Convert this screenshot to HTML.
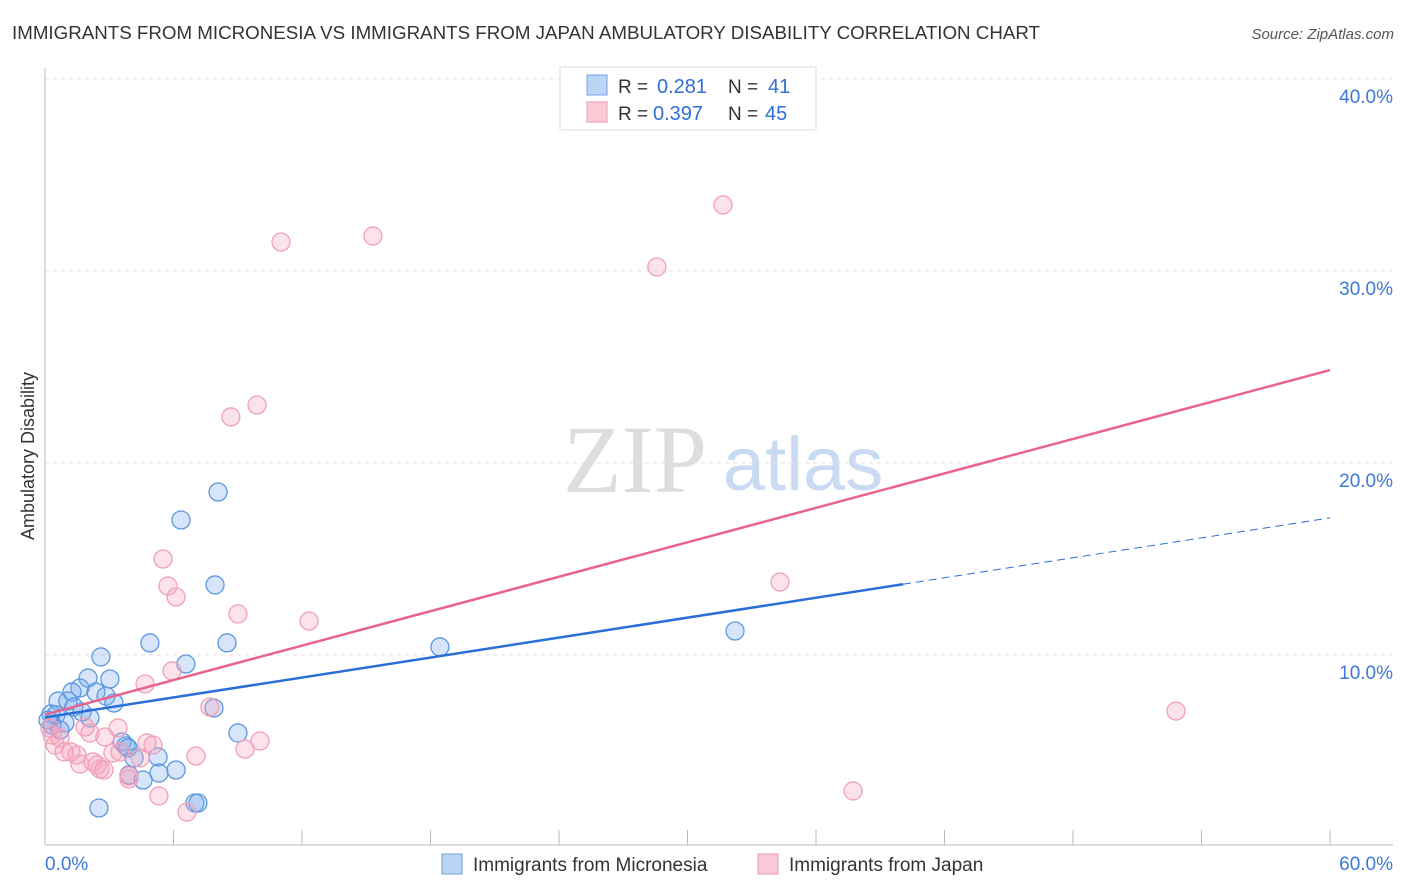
<!DOCTYPE html>
<html><head><meta charset="utf-8"><style>
body{margin:0;background:#fff;font-family:"Liberation Sans",sans-serif}
svg{display:block}
</style></head><body>
<svg id="chart" width="1406" height="892">
<text x="12" y="39" font-size="18" fill="#333" textLength="1028" lengthAdjust="spacingAndGlyphs">IMMIGRANTS FROM MICRONESIA VS IMMIGRANTS FROM JAPAN AMBULATORY DISABILITY CORRELATION CHART</text>
<text x="1394" y="39" font-size="15" fill="#555" font-style="italic" text-anchor="end">Source: ZipAtlas.com</text>
<text x="635" y="492" font-size="96" fill="#ddd" font-family="Liberation Serif,serif" text-anchor="middle">ZIP</text>
<text x="803" y="490" font-size="76" fill="#c9daf2" text-anchor="middle">atlas</text>
<text transform="translate(34,456) rotate(-90)" font-size="18" fill="#333" text-anchor="middle">Ambulatory Disability</text>
<g id="grid"></g><g id="pts"></g><g id="lines"></g>
<g>
<rect x="560" y="67" width="256" height="63" fill="#fff" stroke="#ddd"/>
<rect x="587" y="75" width="20" height="20" fill="#bcd5f5" stroke="#6fa3e6"/>
<rect x="587" y="102" width="20" height="20" fill="#f9c9d6" stroke="#ef9ab5"/>
<text x="618" y="93" font-size="19" fill="#333">R =</text><text x="657" y="93" font-size="20" fill="#2f6fd6">0.281</text>
<text x="728" y="93" font-size="19" fill="#333">N =</text><text x="768" y="93" font-size="20" fill="#2f6fd6">41</text>
<text x="618" y="120" font-size="19" fill="#333">R =</text><text x="653" y="120" font-size="20" fill="#2f6fd6">0.397</text>
<text x="728" y="120" font-size="19" fill="#333">N =</text><text x="765" y="120" font-size="20" fill="#2f6fd6">45</text>
</g>
<g>
<rect x="442" y="854" width="20" height="20" fill="#bcd5f5" stroke="#6fa3e6"/>
<text x="473" y="871" font-size="19" fill="#333">Immigrants from Micronesia</text>
<rect x="758" y="854" width="20" height="20" fill="#f9c9d6" stroke="#ef9ab5"/>
<text x="789" y="871" font-size="19" fill="#333">Immigrants from Japan</text>
</g>
</svg>
<script>
const blueX=[6.35,8.08,7.94,4.90,8.50,2.61,6.58,2.01,3.03,1.63,1.26,2.38,2.85,0.61,1.07,3.22,1.35,7.89,1.73,0.28,0.51,2.10,0.93,9.01,3.60,3.78,3.88,5.28,4.16,5.32,3.92,4.58,6.12,2.52,7.00,7.14,18.44,32.22,0.33,0.14,0.70];
const blueY=[17.03,18.49,13.65,10.63,10.63,9.90,9.53,8.80,8.75,8.28,8.07,8.07,7.86,7.60,7.60,7.50,7.29,7.24,7.03,6.93,6.88,6.72,6.46,5.94,5.47,5.26,5.16,4.69,4.64,3.85,3.75,3.49,4.01,2.03,2.29,2.29,10.42,11.25,6.35,6.61,6.09];
const pinkX=[11.02,15.31,28.57,31.66,8.68,9.90,5.51,5.74,6.12,9.01,12.33,34.32,5.93,4.67,7.70,52.81,3.41,2.80,2.10,4.76,5.04,10.04,9.34,7.05,4.44,3.17,0.70,0.47,0.89,1.21,1.49,2.24,2.43,1.63,2.57,3.92,3.92,5.32,6.63,37.73,0.33,1.87,0.23,2.75,3.50];
const pinkY=[31.51,31.82,30.21,33.44,22.40,23.02,15.0,13.59,13.02,12.14,11.77,13.80,9.17,8.49,7.29,7.08,6.20,5.73,5.94,5.42,5.31,5.52,5.10,4.74,4.64,4.90,5.68,5.31,4.95,4.95,4.79,4.43,4.27,4.32,4.06,3.70,3.54,2.66,1.82,2.92,5.83,6.25,6.20,4.01,4.95];
const yTicks=[10,20,30,40];
const xTickVals=[0,6,12,18,24,30,36,42,48,54,60];
const blueTrend=[6.75,17.14];
const blueSolidEnd=40.06;
const pinkTrend=[6.9,24.84];
const X=v=>45+v/60*1285;
const Y=v=>847-v*19.2;
const NS='http://www.w3.org/2000/svg';
function mk(t,a,p){const e=document.createElementNS(NS,t);for(const k in a)e.setAttribute(k,a[k]);p.appendChild(e);return e;}
const grid=document.getElementById('grid');
yTicks.forEach(t=>{
 const l=mk('line',{x1:45,x2:1393,y1:Y(t),y2:Y(t),stroke:'#e2e2e2','stroke-dasharray':'4,4'},grid);
 
 
 const tx=mk('text',{x:1393,y:Y(t)+24,'font-size':19,fill:'#3b78d8','text-anchor':'end'},grid);
 tx.textContent=t.toFixed(1)+'%';
 
 
});
const ax=mk('line',{x1:45,x2:1393,y1:845,y2:845,stroke:'#bbb'},grid);


const ay=mk('line',{x1:45,x2:45,y1:68,y2:845,stroke:'#bbb'},grid);


xTickVals.forEach(t=>{
 const l=mk('line',{x1:X(t),x2:X(t),y1:830,y2:845,stroke:'#bbb'},grid);
 
 
});
[[0,'start'],[60,'end']].forEach(([t,a])=>{
 const tx=mk('text',{x:t==0?45:1393,y:870,'font-size':19,fill:'#3b78d8','text-anchor':a},grid);
 tx.textContent=t.toFixed(1)+'%';
 
 
});
const pts=document.getElementById('pts');
blueX.forEach((v,i)=>{
 const c=mk('circle',{cx:X(v),cy:Y(blueY[i]),r:9,fill:'rgba(120,170,235,0.3)',stroke:'#5b98e0','stroke-width':1.3},pts);
 
 
});
pinkX.forEach((v,i)=>{
 const c=mk('circle',{cx:X(v),cy:Y(pinkY[i]),r:9,fill:'rgba(245,160,185,0.3)',stroke:'#f0a0b9','stroke-width':1.3},pts);
 
 
});
const lines=document.getElementById('lines');
const bAt=v=>blueTrend[0]+(blueTrend[1]-blueTrend[0])*v/60;
const b1=mk('line',{x1:X(0),y1:Y(bAt(0)),x2:X(blueSolidEnd),y2:Y(bAt(blueSolidEnd)),stroke:'#2a6fd6','stroke-width':2.5},lines);


const b2=mk('line',{x1:X(blueSolidEnd),y1:Y(bAt(blueSolidEnd)),x2:X(60),y2:Y(bAt(60)),stroke:'#2a6fd6','stroke-width':1,'stroke-dasharray':'8,5'},lines);


const p1=mk('line',{x1:X(0),y1:Y(pinkTrend[0]),x2:X(60),y2:Y(pinkTrend[1]),stroke:'#e8648f','stroke-width':2.5},lines);


</script>
</body></html>
